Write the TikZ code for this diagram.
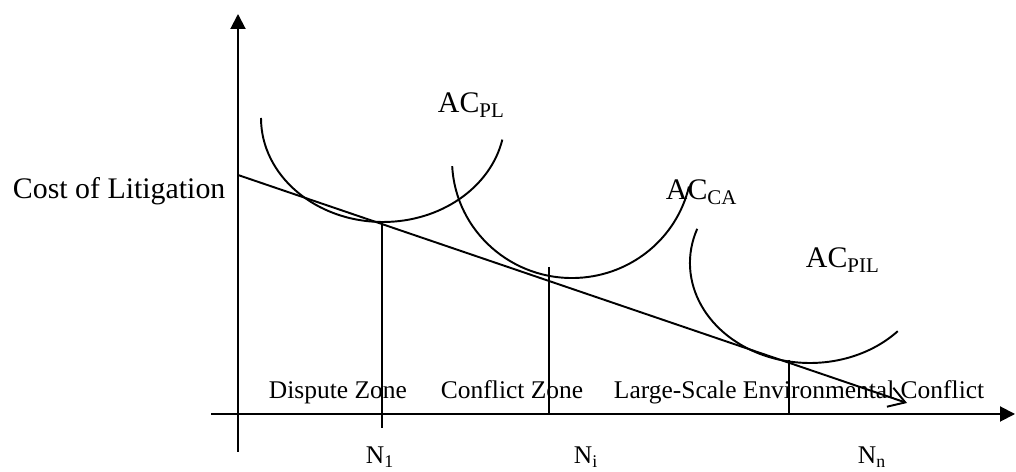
\documentclass[tikz,border=0pt]{standalone}
\usepackage{fontspec}
\setmainfont{Liberation Serif}
\usetikzlibrary{arrows.meta}

\begin{document}
\begin{tikzpicture}[x=0.02cm, y=0.02cm, line width=1.1pt,
    biglbl/.style={anchor=base west, inner sep=0pt, font=\fontsize{17}{20}\selectfont},
    zonelbl/.style={anchor=base west, inner sep=0pt, font=\fontsize{14.5}{17}\selectfont},
    axisarrow/.style={-{Triangle[length=0.3cm, width=0.3cm]}}]
  \useasboundingbox (0,0) rectangle (1016,472);
  % axes
  \coordinate (ybot) at (238,20);
  \coordinate (ytop) at (238,458);
  \coordinate (xleft) at (211,58);
  \coordinate (xright) at (1015,58);
  \draw[axisarrow] (ybot) -- (ytop);
  \draw[axisarrow] (xleft) -- (xright);
  % falling cost line
  \coordinate (cstart) at (238,297);
  \coordinate (cend) at (907,69);
  \draw[-{Straight Barb[length=0.32cm, width=0.4cm]}] (cstart) -- (cend);
  % average cost curves
  \draw (261,354) arc[start angle=180, end angle=348, x radius=122, y radius=104];
  \draw (452.2,305.8) arc[start angle=183, end angle=347, x radius=120, y radius=118];
  \draw (697.2,243.2) arc[start angle=160, end angle=317, x radius=120, y radius=100];
  % zone boundaries
  \foreach \name/\xx/\ytop/\ybot in {v1/382/251/44, vi/549/205/58, vn/789/112/58} {
    \coordinate (\name top) at (\xx,\ytop);
    \coordinate (\name bot) at (\xx,\ybot);
    \draw (\name top) -- (\name bot);
  }
  % labels
  \node[biglbl] (cost) at (12,273) {Cost of Litigation};
  \node[biglbl] (acpl) at (437,359) {AC\textsubscript{PL}};
  \node[biglbl] (acca) at (665,272) {AC\textsubscript{CA}};
  \node[biglbl] (acpil) at (805,204) {AC\textsubscript{PIL}};
  \node[zonelbl] (dispute) at (268,73) {Dispute Zone};
  \node[zonelbl] (conflict) at (440,73) {Conflict Zone};
  \node[zonelbl] (large) at (613,73) {Large-Scale Environmental Conflict};
  \foreach \name/\xx/\sub in {n1/365/1, ni/573/i, nn/857/n}
    \node[zonelbl] (\name) at (\xx,8) {N\textsubscript{\sub}};
\end{tikzpicture}
\end{document}
